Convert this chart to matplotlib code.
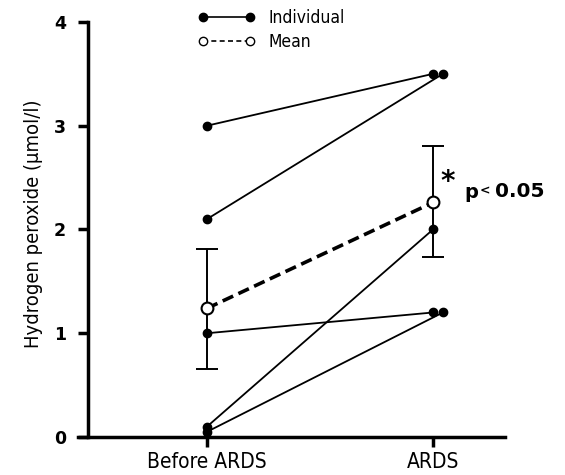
import matplotlib
matplotlib.use("Agg")
import matplotlib.pyplot as plt
from matplotlib.lines import Line2D

categories = ["Before ARDS", "ARDS"]
# individual patients: before and ARDS values, small horizontal offset at ARDS
indiv_before = [3.0, 2.1, 1.0, 0.1, 0.05]
indiv_ards = [3.5, 3.5, 1.2, 2.0, 1.2]
ards_offset = [0.0, 0.044, 0.0, 0.0, 0.044]
mean_vals = [1.24, 2.26]
err_low = [0.66, 1.73]
err_high = [1.81, 2.80]
yticks = [0, 1, 2, 3, 4]

fig = plt.figure(figsize=(5.65, 4.75), dpi=100)
ax = fig.add_axes([88/565, 38/475, 417/565, 427.5/475])

for b, a, off in zip(indiv_before, indiv_ards, ards_offset):
    ax.plot([0, 1 + off], [b, a], color="black", lw=1.3, marker="o",
            ms=6, mfc="black", mec="black", zorder=3)

ax.errorbar([0, 1], mean_vals,
            yerr=[[m - l for m, l in zip(mean_vals, err_low)],
                  [h - m for m, h in zip(mean_vals, err_high)]],
            fmt="none", ecolor="black", elinewidth=1.4, capsize=8, capthick=1.4, zorder=2)
ax.plot([0, 1], mean_vals, color="black", lw=2.6, ls=(0, (3.2, 1.6)),
        marker="o", ms=8.5, mfc="white", mec="black", mew=1.5, zorder=4)

ax.set_xlim(-0.5265, 1.3186)
ax.set_ylim(0, 4.12)
ax.spines["top"].set_visible(False)
ax.spines["right"].set_visible(False)
ax.spines["left"].set_bounds(0, 4)
ax.spines["bottom"].set_bounds(-0.571, 1.3186)
ax.spines["left"].set_linewidth(2.5)
ax.spines["bottom"].set_linewidth(2.5)
ax.set_yticks(yticks)
ax.set_yticklabels([str(v) for v in yticks], fontsize=12.5, fontweight="heavy",
                   family="DejaVu Sans")
ax.set_xticks([0, 1])
ax.set_xticklabels(categories, fontsize=15, family="DejaVu Sans", stretch="condensed")
ax.tick_params(axis="both", width=2.5, length=7)
ax.tick_params(axis="y", pad=9)
ax.tick_params(axis="x", pad=4)
ax.set_ylabel("Hydrogen peroxide (µmol/l)", fontsize=14.5, family="DejaVu Sans",
              stretch="condensed", labelpad=8)

ax.text(1.063, 2.46, "*", fontsize=20, fontweight="bold", family="DejaVu Sans",
        ha="center", va="center")
ax.text(1.14, 2.36, "p", fontsize=14, fontweight="bold", family="DejaVu Sans",
        ha="left", va="center")
ax.text(1.205, 2.37, "<", fontsize=9, fontweight="bold", family="DejaVu Sans",
        ha="left", va="center")
ax.text(1.275, 2.37, "0.05", fontsize=14.5, fontweight="bold", family="DejaVu Sans",
        ha="left", va="center")

handles = [Line2D([0], [0], color="black", lw=1.2, marker="o", ms=6, mfc="black", mec="black"),
           Line2D([0], [0], color="black", lw=1.2, ls=(0, (3, 2)), marker="o", ms=6,
                  mfc="white", mec="black")]
fig.legend(handles, ["Individual", "Mean"], numpoints=2, frameon=False,
           loc="upper left", bbox_to_anchor=(198/565, 1 - 9/475), handlelength=3.3,
           handletextpad=0.75, labelspacing=0.35, borderaxespad=0, borderpad=0,
           prop={"family": "DejaVu Sans", "stretch": "condensed", "size": 12.5})

fig.savefig("out.png", dpi=100)
